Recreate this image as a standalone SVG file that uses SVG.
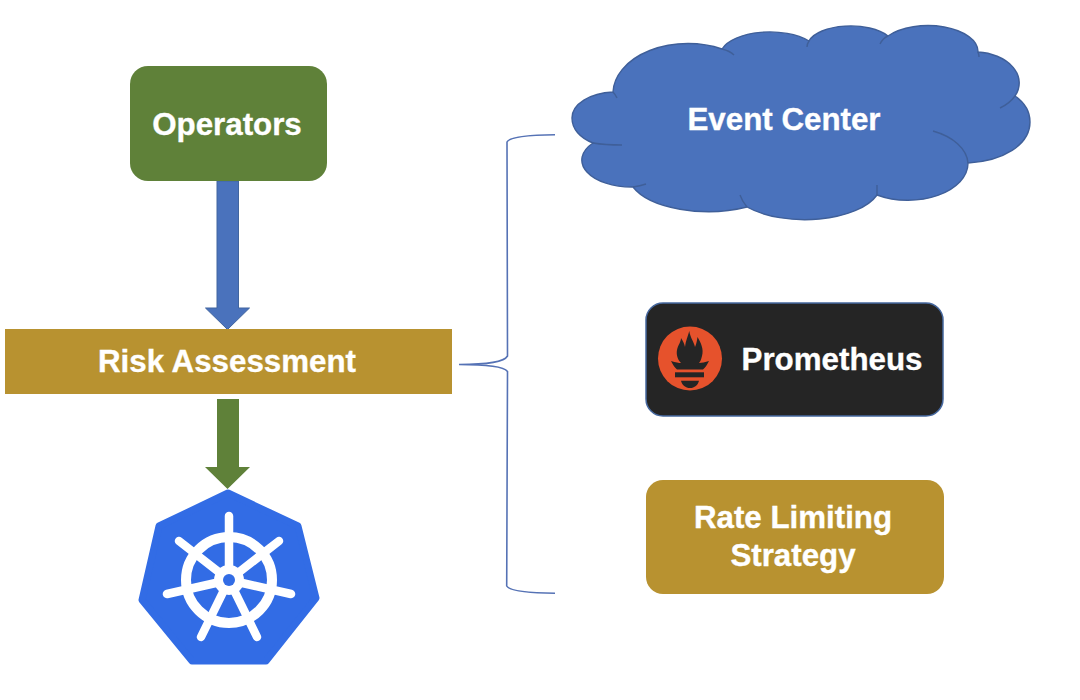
<svg xmlns="http://www.w3.org/2000/svg" width="1080" height="700" viewBox="0 0 1080 700">
<style>
.t{font-family:"Liberation Sans",Arial,sans-serif;font-weight:700;font-size:31.3px;fill:#fff;stroke:#fff;stroke-width:.35;text-anchor:middle}
.cl{fill:none;stroke:#3f5f99;stroke-width:1.4}
.wh{stroke:#fff;fill:none;stroke-linecap:round}
.dk{fill:#252525}
</style>
<rect width="1080" height="700" fill="#fff"/>
<g id="connectors">
<path id="arrow-operators-risk" d="M217 181H238.500V308H249.500L227.500 329.500L205.500 308H217Z" fill="#4a72bc" stroke="#41659f" stroke-width="1"/>
<path id="arrow-risk-k8s" d="M217 399H239V467H250L227.500 489L205 467H217Z" fill="#5f8139"/>
<path id="brace" d="M555 134.700C528 135 509 137.500 507 142L507.500 356C505 360.500 492 364.500 459 364.500C490 364.500 504 367 507.500 371.500L506.700 586C509 590.500 528 593 555 593.300" fill="none" stroke="#5572b5" stroke-width="1.600"/>
</g>
<g id="operators">
<rect x="130" y="66" width="197" height="115" rx="18" fill="#5f8139"/>
<text class="t" x="227" y="135">Operators</text>
</g>
<g id="risk-assessment">
<rect x="5" y="329" width="447" height="65" fill="#b89230"/>
<text class="t" x="227" y="372">Risk Assessment</text>
</g>
<g id="kubernetes">
<path d="M228 493L298 526L316 598L266 661H192L142 600L159 526Z" fill="#326ce5" stroke="#326ce5" stroke-width="7" stroke-linejoin="round"/>
<circle class="wh" cx="229" cy="580" r="43" stroke-width="10"/>
<path class="wh" stroke-width="8.500" d="M229 580V516M229 580L179 541M229 580L279 541M229 580L167 594M229 580L291 594M229 580L201 637M229 580L257 637"/>
<circle cx="229" cy="580" r="15" fill="#fff"/>
<circle cx="229" cy="580" r="6" fill="#326ce5"/>
</g>
<g id="event-center">
<path d="M613 92A75 50 0 0 1 722 49A50 24 0 0 1 809 41A43 20 0 0 1 888 36A50 26 0 0 1 978 52A45 31 0 0 1 1015 96C1025 103 1030 112 1030 122C1030 145 1003 161 968 163A60 37 0 0 1 877 195A76 36 0 0 1 747 207A80 37 0 0 1 633 187A50 27 0 0 1 593 143C580 138 572 129 572 118C572 104 590 93 613 92Z" fill="#4a72bc" stroke="#3f5f99" stroke-width="1.400"/>
<path class="cl" d="M613 92Q615 94 617 98M722 49Q730 51 734 55M809 41Q807 44 807 47M888 36Q883 38 880 44M978 52Q979 55 979 57M1015 96A45 31 0 0 1 1000 108M968 163A60 37 0 0 0 933 131M877 195Q877 190 877 185M747 207Q742 201 740 195M633 187Q640 186 646 184M593 143Q605 145 622 145"/>
<text class="t" x="784" y="130">Event Center</text>
</g>
<g id="prometheus">
<rect x="646" y="303" width="297" height="113" rx="17" fill="#252525" stroke="#46689f" stroke-width="1.500"/>
<circle cx="690" cy="358.500" r="32" fill="#e6522c"/>
<path class="dk" d="M689.300 331C690 337 694 342 695 347C696.500 344 697 340 697.500 337C701 343 704 349 702 356C701 360 700 362 699 363H681C678 360 676 355 677 350C678 345 681 342 681 338C683 341 684.500 344 685 347C685.500 341 688 336 689.300 331Z"/>
<path class="dk" d="M671 361Q678 363 681 363H699Q703 363 709 361C707 365 705 368 703 369.500H677C675 368 673 365 671 361Z"/>
<rect class="dk" x="675" y="372.300" width="29" height="5"/>
<path class="dk" d="M681 380.700H699C698 385 694.500 388 690 388C685.500 388 682 385 681 380.700Z"/>
<text class="t" x="832" y="370">Prometheus</text>
</g>
<g id="rate-limiting">
<rect x="646" y="480" width="298" height="114" rx="17" fill="#b89230"/>
<text class="t" x="793" y="528">Rate Limiting</text>
<text class="t" x="793" y="566">Strategy</text>
</g>
</svg>
